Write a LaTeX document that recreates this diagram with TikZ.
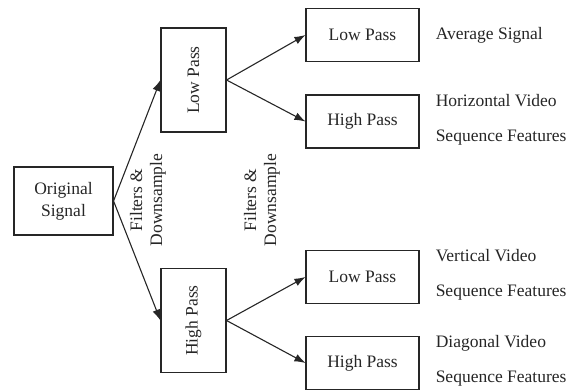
\documentclass[tikz,border=0pt]{standalone}
\usepackage{fontspec}
\setmainfont{Liberation Serif}
\usetikzlibrary{positioning, arrows.meta, calc}

\begin{document}
\begin{tikzpicture}[
  x=1pt, y=-1pt,
  box/.style  = {draw=black!85, line width=1.1pt, text=black!85, align=center,
                 font=\fontsize{17.5}{22}\selectfont, inner sep=0pt},
  flat/.style = {box, minimum width=113pt, minimum height=53pt},
  tall/.style = {box, rotate=90, minimum width=104pt, minimum height=65pt},
  flow/.style = {-{Latex[length=11pt,width=8pt]}, line width=1.1pt, draw=black!85},
  note/.style = {text=black!85, align=left, anchor=west, inner sep=0pt,
                 font=\fontsize{17.5}{35}\selectfont},
  lbl/.style  = {text=black!85, align=center, rotate=90, inner sep=0pt,
                 font=\fontsize{17.5}{20}\selectfont},
]
\useasboundingbox (0,0) rectangle (576,390);

% --- nodes ---------------------------------------------------------------
\node[box, minimum width=99pt, minimum height=68pt] (orig) at (63.5,201) {Original\\Signal};
\node[tall] (low)  at (193.5,80)    {Low Pass};
\node[tall] (high) at (193.5,320.5) {High Pass};

\node[flat] (ll) at (362.5,35)    {Low Pass};
\node[flat] (lh) at (362.5,121.5) {High Pass};
\node[flat] (hl) at (362.5,277)   {Low Pass};
\node[flat] (hh) at (362.5,363)   {High Pass};

% --- labels --------------------------------------------------------------
\node[lbl] (fd1) at (148,200) {Filters \&\\Downsample};
\node[lbl] (fd2) at (262,200) {Filters \&\\Downsample};

\node[note] (avg)  at ($(ll.east)+(16,0)$) {Average Signal};
\node[note] (hor)  at ($(lh.east)+(16,-2)$) {Horizontal Video\\Sequence Features};
\node[note] (ver)  at ($(hl.east)+(16,-2)$) {Vertical Video\\Sequence Features};
\node[note] (diag) at ($(hh.east)+(16,-2)$) {Diagonal Video\\Sequence Features};

% --- first split ---------------------------------------------------------
\draw[flow] (orig.east) -- (low.north);
\draw[flow] (orig.east) -- (high.north);

% --- second split --------------------------------------------------------
\draw[flow] (low.south)  -- (ll.west);
\draw[flow] (low.south)  -- (lh.west);
\draw[flow] (high.south) -- (hl.west);
\draw[flow] (high.south) -- (hh.west);

\end{tikzpicture}
\end{document}
